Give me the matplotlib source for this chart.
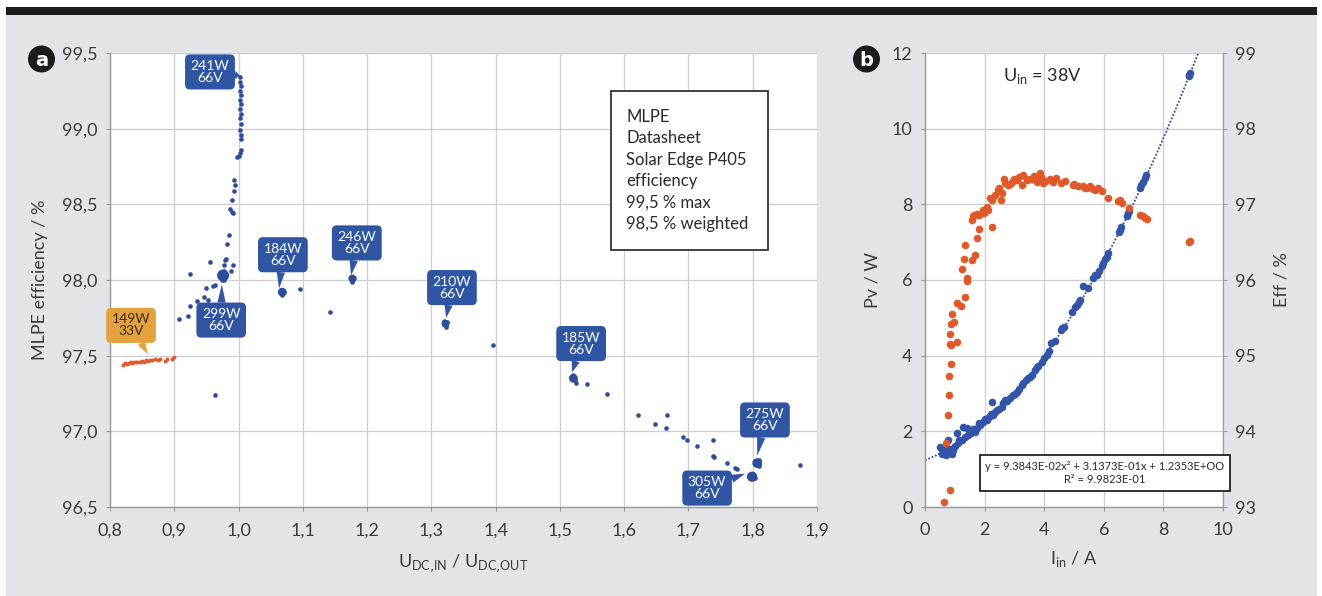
import numpy as np
import matplotlib.pyplot as plt
from matplotlib.patches import Rectangle, Ellipse

plt.rcParams['font.family'] = ['Lato', 'DejaVu Sans']
plt.rcParams['font.weight'] = 'normal'

# ---- panel a: MLPE efficiency vs. voltage ratio ----
ratio_blue = [1.003, 1.003, 1.004, 1.003, 1.004, 1.003, 1.004, 1.003, 1.004, 1.003,
              1.004, 1.003, 1.004, 1.004, 1.004, 0.998, 1.001, 1.003,
              0.993, 0.995, 0.993, 0.990, 0.987, 0.990, 0.992, 0.985, 0.982, 0.979,
              0.981, 0.978, 0.956, 0.991, 0.925, 0.989,
              0.973, 0.976, 0.979, 0.975, 0.977, 0.972, 0.978, 0.974,
              0.963, 0.960, 0.950, 0.946, 0.953, 0.936, 0.925, 0.939, 0.922, 0.907, 0.963,
              1.066, 1.068, 1.070, 1.067, 1.095,
              1.176, 1.178, 1.179, 1.177, 1.142,
              1.320, 1.322, 1.324, 1.323, 1.396,
              1.518, 1.521, 1.523, 1.525, 1.520,
              1.542, 1.573, 1.622, 1.648, 1.667, 1.665, 1.691, 1.697, 1.713, 1.738,
              1.738, 1.740, 1.760, 1.772, 1.776,
              1.805, 1.808, 1.810, 1.806, 1.809,
              1.797, 1.800, 1.803, 1.801, 1.795, 1.874]
eff_blue = [99.34, 99.31, 99.28, 99.25, 99.22, 99.19, 99.16, 99.13, 99.10, 99.07,
            99.03, 98.99, 98.96, 98.93, 98.86, 98.81, 98.82, 98.84,
            98.66, 98.63, 98.59, 98.53, 98.47, 98.45, 98.44, 98.30, 98.24, 98.13,
            98.14, 98.10, 98.12, 98.10, 98.04, 98.06,
            98.04, 98.02, 98.03, 98.00, 98.06, 98.01, 98.00, 98.05,
            97.97, 97.96, 97.95, 97.89, 97.87, 97.86, 97.83, 97.81, 97.76, 97.74, 97.24,
            97.93, 97.91, 97.92, 97.90, 97.94,
            98.02, 98.00, 98.01, 97.99, 97.79,
            97.73, 97.71, 97.72, 97.69, 97.57,
            97.36, 97.35, 97.34, 97.32, 97.37,
            97.31, 97.25, 97.11, 97.05, 97.11, 97.02, 96.96, 96.94, 96.90, 96.94,
            96.84, 96.83, 96.79, 96.76, 96.75,
            96.80, 96.79, 96.81, 96.78, 96.77,
            96.71, 96.70, 96.69, 96.72, 96.70, 96.78]

# dense clusters of overlapping measurements (one centre per cluster)
cluster_ratio = [0.976, 1.068, 1.177, 1.322, 1.521, 1.807, 1.799]
cluster_eff = [98.03, 97.92, 98.01, 97.71, 97.35, 96.79, 96.70]
cluster_size = [75, 40, 32, 32, 40, 50, 55]

ratio_orange = [0.820, 0.823, 0.826, 0.829, 0.832, 0.835, 0.838, 0.841, 0.844, 0.847,
                0.850, 0.853, 0.856, 0.859, 0.862, 0.866, 0.870, 0.874, 0.878,
                0.886, 0.889, 0.897, 0.900]
eff_orange = [97.44, 97.45, 97.445, 97.45, 97.455, 97.45, 97.46, 97.455, 97.46, 97.46,
              97.465, 97.46, 97.47, 97.465, 97.47, 97.47, 97.475, 97.47, 97.48,
              97.465, 97.475, 97.48, 97.49]

# callouts: label, point, box centre
callout_text = ['241W\n66V', '184W\n66V', '246W\n66V', '210W\n66V', '185W\n66V',
                '275W\n66V', '305W\n66V', '299W\n66V', '149W\n33V']
callout_tip = [(1.002, 99.35), (1.063, 97.945), (1.175, 98.03), (1.323, 97.75),
               (1.519, 97.39), (1.807, 96.84), (1.788, 96.72), (0.974, 97.97),
               (0.859, 97.51)]
callout_box = [(0.9556, 99.375), (1.069, 98.167), (1.184, 98.245), (1.332, 97.95),
               (1.533, 97.58), (1.819, 97.075), (1.729, 96.625), (0.973, 97.735),
               (0.8327, 97.70)]

xticks_a = [0.8, 0.9, 1.0, 1.1, 1.2, 1.3, 1.4, 1.5, 1.6, 1.7, 1.8, 1.9]
xtick_labels_a = ['0,8', '0,9', '1,0', '1,1', '1,2', '1,3', '1,4', '1,5', '1,6', '1,7', '1,8', '1,9']
yticks_a = [96.5, 97.0, 97.5, 98.0, 98.5, 99.0, 99.5]
ytick_labels_a = ['96,5', '97,0', '97,5', '98,0', '98,5', '99,0', '99,5']

# ---- panel b: power loss and efficiency vs. input current ----
i_loss = [0.50, 0.55, 0.58, 0.61, 0.66, 0.70, 0.73, 0.76, 0.80, 0.84, 0.90, 0.95,
          1.00, 1.06, 1.10, 1.15, 1.23, 1.29, 1.35, 1.40, 1.45, 1.55, 1.60, 1.68,
          1.75, 1.80, 1.85, 1.95, 2.00, 2.07, 2.15, 2.20, 2.26, 2.29, 2.35, 2.40,
          2.50, 2.57, 2.62, 2.68, 2.75, 2.85, 2.95, 3.02, 3.10, 3.15, 3.24, 3.30,
          3.40, 3.45, 3.52, 3.60, 3.69, 3.75, 3.80, 3.91, 4.00, 4.08, 4.15, 4.23,
          4.35, 4.55, 4.59, 4.65, 4.92, 5.05, 5.10, 5.17, 5.20, 5.31, 5.48, 5.65,
          5.70, 5.76, 5.85, 5.93, 5.98, 6.05, 6.10, 6.15, 6.50, 6.54, 6.58, 6.78,
          6.82, 6.85, 7.21, 7.25, 7.30, 7.38, 7.42, 8.85, 8.87, 8.90]
pv_loss = [1.59, 1.55, 1.40, 1.51, 1.48, 1.38, 1.46, 1.77, 1.52, 1.42, 1.40, 1.51,
           1.60, 1.95, 1.70, 1.78, 1.77, 2.12, 1.85, 2.10, 1.90, 1.95, 2.05, 1.99,
           2.10, 2.22, 2.17, 2.25, 2.33, 2.30, 2.38, 2.45, 2.78, 2.43, 2.50, 2.56,
           2.60, 2.65, 2.75, 2.83, 2.80, 2.88, 2.95, 3.00, 3.05, 3.12, 3.22, 3.27,
           3.35, 3.40, 3.44, 3.50, 3.62, 3.70, 3.72, 3.84, 3.95, 4.02, 4.12, 4.33,
           4.40, 4.68, 4.72, 4.75, 5.16, 5.28, 5.35, 5.43, 5.47, 5.83, 5.78, 6.05,
           6.12, 6.13, 6.25, 6.36, 6.44, 6.55, 6.62, 6.71, 7.28, 7.33, 7.40, 7.70,
           7.77, 7.82, 8.43, 8.50, 8.58, 8.70, 8.78, 11.38, 11.43, 11.48]

i_eff = [0.65, 0.85, 0.69, 0.76, 0.82, 0.81, 0.87, 0.84, 0.86, 1.08, 0.84, 0.87,
         0.98, 0.89, 1.07, 1.21, 1.34, 1.40, 1.42, 1.25, 1.32, 1.59, 1.68, 1.34,
         1.73, 1.81, 2.26, 1.57, 1.62, 1.73, 1.81, 1.99, 2.07, 2.10, 2.18, 2.25,
         2.55, 2.46, 2.59, 2.66, 2.77, 2.91, 3.08, 3.30, 3.24, 3.41, 3.58, 3.86,
         3.75, 3.97, 4.19, 4.30, 4.56, 4.70, 4.98, 5.14, 5.31, 5.37, 5.54, 5.65,
         5.82, 5.93, 6.15, 6.49, 6.60, 6.86, 7.21, 7.33, 7.44, 8.87,
         1.65, 1.95, 2.35, 2.50, 2.70, 2.85, 3.00, 3.15, 3.50, 3.65, 3.90, 4.05,
         4.40, 5.00, 5.45, 5.70, 6.55, 7.38, 8.90]
eff_pct = [93.07, 93.23, 93.85, 94.22, 94.48, 94.73, 94.89, 95.16, 95.14, 95.18, 95.28, 95.42,
           95.45, 95.55, 95.69, 95.66, 95.78, 96.02, 95.99, 96.15, 96.28, 96.26, 96.33, 96.46,
           96.55, 96.67, 96.70, 96.79, 96.84, 96.87, 96.86, 96.88, 96.96, 96.92, 97.08, 97.06,
           97.06, 97.19, 97.15, 97.34, 97.25, 97.30, 97.32, 97.39, 97.25, 97.32, 97.34, 97.41,
           97.30, 97.28, 97.34, 97.30, 97.28, 97.31, 97.25, 97.24, 97.24, 97.21, 97.24, 97.20,
           97.21, 97.17, 97.09, 97.04, 97.02, 96.95, 96.86, 96.84, 96.81, 96.50,
           96.86, 96.93, 97.12, 97.22, 97.28, 97.27, 97.33, 97.36, 97.33, 97.37, 97.36, 97.31,
           97.35, 97.27, 97.22, 97.19, 97.06, 96.82, 96.52]

fit_coef = [9.3843e-02, 3.1373e-01, 1.2353e+00]
fit_r2 = 9.9823e-01

xticks_b = [0, 2, 4, 6, 8, 10]
yticks_b = [0, 2, 4, 6, 8, 10, 12]
yticks_b_right = [93, 94, 95, 96, 97, 98, 99]

BLUE = '#2d4c9c'
BOX_BLUE = '#2f55a3'
ORANGE = '#e0592a'
BOX_ORANGE = '#e3a23e'
BG = '#e3e4e7'
TICK = '#3c3c3c'
GRID = '#cdcdcd'

W, H = 1322, 596
fig = plt.figure(figsize=(W / 100, H / 100), dpi=100, facecolor='white')

# page background and top rule
fig.add_artist(Rectangle((6 / W, 0), 1311 / W, 1 - 15 / H, transform=fig.transFigure,
                         fc=BG, ec='none', zorder=-10))
fig.add_artist(Rectangle((6 / W, 1 - 15 / H), 1311 / W, 8 / H, transform=fig.transFigure,
                         fc='#1c1c1c', ec='none', zorder=-10))


def style_axes(ax):
    ax.set_facecolor('white')
    for s in ['top', 'right']:
        ax.spines[s].set_visible(False)
    for s in ['left', 'bottom']:
        ax.spines[s].set_color('#9a9a9a')
        ax.spines[s].set_linewidth(1.0)
    ax.grid(True, color=GRID, lw=0.9)
    ax.set_axisbelow(True)
    ax.tick_params(colors='#9a9a9a', labelcolor=TICK, labelsize=13, length=3)


def badge(x, y, letter):
    fig.add_artist(Ellipse((x / W, 1 - y / H), 27 / W, 27 / H, transform=fig.transFigure,
                           fc='#1c1c1c', ec='none'))
    fig.text(x / W, 1 - y / H, letter, color='white', fontsize=14, fontweight='bold',
             ha='center', va='center_baseline', family=['DejaVu Sans'])


# ----- panel a -----
ax = fig.add_axes([110 / W, 1 - 507 / H, 707 / W, 454 / H])
style_axes(ax)
ax.set_xlim(0.8, 1.9)
ax.set_ylim(96.5, 99.5)
ax.set_xticks(xticks_a, xtick_labels_a)
ax.set_yticks(yticks_a, ytick_labels_a)
ax.tick_params(axis='x', pad=8)
ax.tick_params(axis='y', pad=6)

ax.scatter(ratio_blue, eff_blue, s=11, color=BLUE, lw=0, zorder=3)
ax.scatter(cluster_ratio, cluster_eff, s=cluster_size, color=BLUE, lw=0, zorder=3)
ax.scatter(ratio_orange, eff_orange, s=8, color=ORANGE, lw=0, zorder=3)

for txt, tip, box in zip(callout_text, callout_tip, callout_box):
    fc = BOX_ORANGE if txt.endswith('33V') else BOX_BLUE
    tc = '#3b2a14' if txt.endswith('33V') else 'white'
    ax.annotate(txt, xy=tip, xytext=box, ha='center', va='center', fontsize=10,
                color=tc, linespacing=1.0, zorder=5,
                bbox=dict(boxstyle='round,pad=0.4,rounding_size=0.35', fc=fc, ec='none'),
                arrowprops=dict(arrowstyle='wedge,tail_width=0.6,shrink_factor=0.5',
                                fc=fc, ec='none', shrinkA=0, shrinkB=0))

ax.add_patch(Rectangle((0.7086, 0.566), 0.2221, 0.350, transform=ax.transAxes,
                       fc='white', ec='#333333', lw=1.3, zorder=6))
ax.text(0.73, 0.877, 'MLPE\nDatasheet\nSolar Edge P405\nefficiency\n99,5 % max\n98,5 % weighted',
        transform=ax.transAxes, ha='left', va='top', fontsize=12, color='#2a2a2a',
        linespacing=1.42, zorder=7)

ax.set_ylabel('MLPE efficiency / %', fontsize=13, color='#3c3c3c', labelpad=10)
ax.set_xlabel('U$_\\mathregular{DC\u201aIN}$ / U$_\\mathregular{DC\u201aOUT}$', fontsize=13,
              color='#3c3c3c', labelpad=10)
badge(41.5, 59, 'a')

# ----- panel b -----
bx = fig.add_axes([925 / W, 1 - 507 / H, 298 / W, 454 / H])
style_axes(bx)
bx.spines['right'].set_visible(True)
bx.spines['right'].set_color('#9a9a9a')
bx.set_xlim(0, 10)
bx.set_ylim(0, 12)
bx.set_xticks(xticks_b)
bx.set_yticks(yticks_b)
bx.tick_params(axis='x', pad=8)
bx.tick_params(axis='y', pad=6)

bx2 = bx.twinx()
bx2.set_ylim(93, 99)
bx2.set_yticks(yticks_b_right)
for s in ['top', 'left', 'bottom']:
    bx2.spines[s].set_visible(False)
bx2.spines['right'].set_color('#9a9a9a')
bx2.tick_params(colors='#9a9a9a', labelcolor=TICK, labelsize=13, length=3, pad=6)

ii = np.linspace(0, 9.4, 200)
bx.plot(ii, np.polyval(fit_coef, ii), color=BLUE, lw=1.3, ls=(0, (1, 1)), zorder=2)
bx.scatter(i_loss, pv_loss, s=30, color='#3354a9', lw=0, zorder=3)
bx2.scatter(i_eff, eff_pct, s=30, color=ORANGE, lw=0, zorder=3)

bx.text(3.95, 11.4, r'U$_\mathregular{in}$ = 38V', ha='center', va='center',
        fontsize=13, color='#2a2a2a')
bx.set_ylabel('Pv / W', fontsize=13, color='#3c3c3c', labelpad=8)
bx.set_xlabel(r'I$_\mathregular{in}$ / A', fontsize=13, color='#3c3c3c', labelpad=8)
bx2.set_ylabel('Eff / %', fontsize=13, color='#3c3c3c', rotation=90, labelpad=12)

eq = (f'y = {fit_coef[0]:.4E}x\u00b2 + {fit_coef[1]:.4E}x + {fit_coef[2]:.4E}\n'
      f'R\u00b2 = {fit_r2:.4E}').replace('E+00', 'E+OO')
fig.text(1105 / W, 1 - 473 / H, eq, ha='center', va='center', fontsize=8,
         color='#2a2a2a', linespacing=1.3,
         bbox=dict(boxstyle='square,pad=0.5', fc='white', ec='#222222', lw=1.3))
badge(866.5, 59, 'b')

fig.savefig('out.png', dpi=100, facecolor=fig.get_facecolor())
